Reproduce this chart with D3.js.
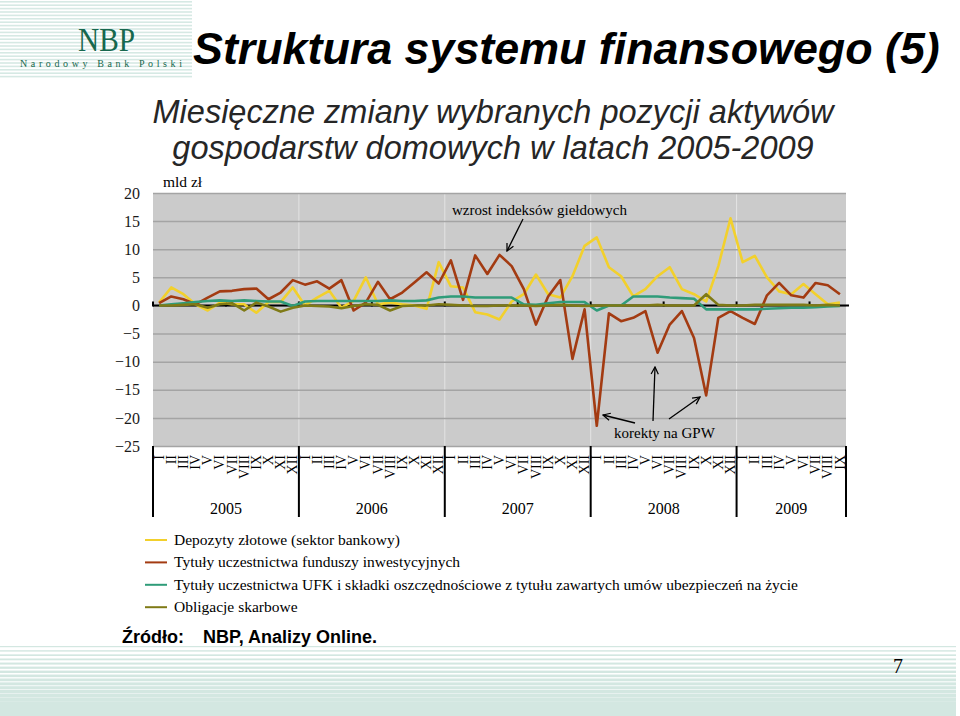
<!DOCTYPE html>
<html>
<head>
<meta charset="utf-8">
<script src="https://cdn.jsdelivr.net/npm/d3@7"></script>
<style>
  body { margin: 0; background: #fff; }
  svg { display: block; }
</style>
</head>
<body>
<svg id="slide"></svg>
<script>
// months / years of the category axis
const months = ['I','II','III','IV','V','VI','VII','VIII','IX','X','XI','XII'];
const years = ['2005','2006','2007','2008','2009'];
const monthsInYear = [12, 12, 12, 12, 9];
const yTicks = [20, 15, 10, 5, 0, -5, -10, -15, -20, -25];

// monthly changes, mld zł
const depozyty = [0.5, 3.2, 2.0, 0.2, -0.9, 0.5, 0.2, 0.2, -1.3, 0.6, 0.6, 3.2,
  0.0, 1.4, 2.6, -0.4, 0.8, 5.0, 0.2, 0.5, 0.2, 0.0, -0.6, 7.7,
  3.4, 3.2, -1.2, -1.6, -2.5, 0.7, 2.0, 5.5, 2.0, 1.4, 5.2, 10.6,
  12.1, 6.8, 5.2, 1.6, 2.9, 5.2, 6.8, 2.9, 2.0, 0.7, 7.0, 15.5,
  7.7, 8.8, 5.0, 2.5, 2.0, 3.8, 2.0, 0.2, 0.5];
const fundusze = [0.4, 1.6, 1.1, 0.2, 1.4, 2.5, 2.6, 2.9, 3.0, 1.1, 2.3, 4.5,
  3.7, 4.3, 3.0, 4.5, -0.9, 0.5, 4.2, 1.1, 2.3, 4.1, 5.9, 3.9,
  8.0, 1.0, 8.9, 5.6, 9.0, 7.0, 2.9, -3.4, 1.6, 4.5, -9.5, -0.7,
  -21.4, -1.4, -2.8, -2.2, -1.0, -8.4, -3.4, -1.0, -5.8, -16.0, -2.2, -1.0,
  -2.2, -3.3, 1.8, 4.0, 1.8, 1.4, 4.0, 3.6, 2.0];
const ufk = [0.0, 0.2, 0.4, 0.6, 0.8, 0.9, 0.8, 0.9, 0.8, 0.7, 0.7, -0.1,
  0.7, 0.8, 0.8, 0.8, 0.8, 0.8, 0.8, 0.9, 0.8, 0.8, 0.9, 1.4,
  1.6, 1.6, 1.4, 1.4, 1.4, 1.4, 0.2, 0.1, 0.4, 0.6, 0.6, 0.6,
  -0.9, 0.0, 0.0, 1.6, 1.6, 1.6, 1.4, 1.3, 1.2, -0.7, -0.7, -0.7,
  -0.7, -0.7, -0.6, -0.5, -0.4, -0.4, -0.3, -0.2, -0.1];
const obligacje = [0.0, 0.0, 0.1, 0.2, -0.4, 0.2, 0.4, -0.9, 0.5, -0.2, -1.1, -0.4,
  0.0, -0.1, -0.2, -0.5, -0.1, 0.2, 0.1, -0.9, -0.1, 0.0, 0.0, 0.2,
  0.1, 0.0, -0.1, -0.1, 0.0, 0.0, 0.0, -0.1, 0.0, 0.1, 0.0, -0.1,
  0.0, 0.0, 0.0, 0.0, 0.0, 0.1, 0.0, 0.0, 0.0, 2.0, 0.1, 0.0,
  0.0, 0.1, 0.1, 0.1, 0.1, 0.1, 0.0, 0.1, 0.0];

const seriesNames = [
  'Depozyty złotowe (sektor bankowy)',
  'Tytuły uczestnictwa funduszy inwestycyjnych',
  'Tytuły uczestnictwa UFK i składki oszczędnościowe z tytułu zawartych umów ubezpieczeń na życie',
  'Obligacje skarbowe'
];
const seriesValues = [depozyty, fundusze, ufk, obligacje];
const seriesColors = ['#f2d02c', '#a33b12', '#2f9c79', '#7f7a16'];

const serif = '"Liberation Serif", "Times New Roman", serif';
const sans = '"Liberation Sans", Arial, sans-serif';

const W = 960, H = 716;
const svg = d3.select('#slide').attr('width', W).attr('height', H);

// ---- slide decoration: striped bands ----
const deco = svg.append('g');
for (let y = 1; y < 77; y += 3.4) {
  deco.append('rect').attr('x', 0).attr('y', y).attr('width', 192).attr('height', 1.6)
    .attr('fill', '#d6e9e4');
}
let sy = 646, gap = 4.2;
while (sy < H) {
  const h = Math.min(1.2 + (sy - 646) * 0.05, gap);
  deco.append('rect').attr('x', 0).attr('y', sy).attr('width', 956).attr('height', h)
    .attr('fill', '#d3e7e1');
  sy += gap;
  gap = Math.max(gap - 0.04, 2.6);
}
deco.append('rect').attr('x', 0).attr('y', 704).attr('width', 956).attr('height', 12)
  .attr('fill', '#d3e7e1');

// NBP logo
svg.append('text').attr('x', 78).attr('y', 51).attr('textLength', 57)
  .attr('lengthAdjust', 'spacingAndGlyphs')
  .style('font-family', serif).style('font-size', '33px').attr('fill', '#17684e')
  .text('NBP');
svg.append('text').attr('x', 20).attr('y', 67).attr('textLength', 162)
  .attr('lengthAdjust', 'spacing')
  .style('font-family', serif).style('font-size', '10px').attr('fill', '#17684e')
  .text('Narodowy Bank Polski');

// titles
svg.append('text').attr('x', 193).attr('y', 64)
  .style('font-family', sans).style('font-size', '44.8px').style('font-weight', 'bold')
  .style('font-style', 'italic').attr('fill', '#000')
  .text('Struktura systemu finansowego (5)');
svg.append('text').attr('x', 493).attr('y', 123).attr('text-anchor', 'middle')
  .style('font-family', sans).style('font-size', '32.5px').style('font-style', 'italic')
  .attr('fill', '#262626')
  .text('Miesięczne zmiany wybranych pozycji aktywów');
svg.append('text').attr('x', 493).attr('y', 159).attr('text-anchor', 'middle')
  .style('font-family', sans).style('font-size', '32.5px').style('font-style', 'italic')
  .attr('fill', '#262626')
  .text('gospodarstw domowych w latach 2005-2009');

// ---- chart ----
const plot = {left: 153, right: 846, top: 193, bottom: 446};
const n = depozyty.length;
const x = d3.scaleBand().domain(d3.range(n)).range([plot.left, plot.right]);
const cx = i => x(i) + x.bandwidth() / 2;
const y = d3.scaleLinear().domain([-25, 20]).range([plot.bottom, plot.top]);

svg.append('rect').attr('x', plot.left).attr('y', plot.top)
  .attr('width', plot.right - plot.left).attr('height', plot.bottom - plot.top)
  .attr('fill', '#cbcbcb');

// year start positions
const yearStart = [0];
monthsInYear.forEach((m, i) => yearStart.push(yearStart[i] + m));
const boundaryX = k => k < n ? x(k) : plot.right;

// light vertical lines inside plot
svg.append('g').selectAll('line').data(yearStart.slice(1, -1)).join('line')
  .attr('x1', boundaryX).attr('x2', boundaryX)
  .attr('y1', plot.top).attr('y2', plot.bottom)
  .attr('stroke', '#e4e4e4').attr('stroke-width', 1);

// horizontal gridlines
const grid = svg.append('g').attr('transform', `translate(${plot.left},0)`)
  .call(d3.axisLeft(y).tickValues(yTicks).tickSize(-(plot.right - plot.left)).tickFormat(''));
grid.select('.domain').remove();
grid.selectAll('line').attr('stroke', '#a4a4a4').attr('stroke-width', 1.5);

// y labels
const yAxis = svg.append('g').attr('transform', `translate(${plot.left},0)`)
  .call(d3.axisLeft(y).tickValues(yTicks).tickSize(0).tickPadding(13));
yAxis.select('.domain').remove();
yAxis.selectAll('text').style('font-family', serif).style('font-size', '16px')
  .attr('fill', '#1a1a1a');

svg.append('text').attr('x', 163).attr('y', 187)
  .style('font-family', serif).style('font-size', '15.5px').text('mld zł');

// zero line with half-year ticks
svg.append('line').attr('x1', plot.left).attr('x2', plot.right + 3)
  .attr('y1', y(0)).attr('y2', y(0)).attr('stroke', '#000').attr('stroke-width', 2);
svg.append('g').selectAll('line').data(d3.range(0, n + 1, 6)).join('line')
  .attr('x1', k => boundaryX(k)).attr('x2', k => boundaryX(k))
  .attr('y1', y(0) - 4).attr('y2', y(0) + 1)
  .attr('stroke', '#000').attr('stroke-width', 2);

// series
const line = d3.line().x((d, i) => cx(i)).y(d => y(d));
svg.append('g').selectAll('path').data(seriesValues).join('path')
  .attr('d', line).attr('fill', 'none')
  .attr('stroke', (d, i) => seriesColors[i]).attr('stroke-width', 2.6)
  .attr('stroke-linejoin', 'round');

// category axis: month labels
const catLabels = [];
monthsInYear.forEach(m => months.slice(0, m).forEach(l => catLabels.push(l)));
svg.append('g').selectAll('text').data(catLabels).join('text')
  .attr('transform', (d, i) => `translate(${cx(i)},455) rotate(-90)`)
  .attr('text-anchor', 'end').attr('dy', '0.33em')
  .style('font-family', serif).style('font-size', '14px').attr('fill', '#000')
  .text(d => d);

// year separators and labels
svg.append('g').selectAll('line').data(yearStart).join('line')
  .attr('x1', boundaryX).attr('x2', boundaryX)
  .attr('y1', plot.bottom).attr('y2', 517)
  .attr('stroke', '#000').attr('stroke-width', 2);
svg.append('g').selectAll('text').data(years).join('text')
  .attr('x', (d, i) => (boundaryX(yearStart[i]) + boundaryX(yearStart[i + 1])) / 2)
  .attr('y', 514).attr('text-anchor', 'middle')
  .style('font-family', serif).style('font-size', '16px')
  .text(d => d);

// annotations
const defs = svg.append('defs');
defs.append('marker').attr('id', 'arr').attr('viewBox', '0 0 10 10')
  .attr('refX', 9).attr('refY', 5).attr('markerWidth', 9).attr('markerHeight', 9)
  .attr('markerUnits', 'userSpaceOnUse').attr('orient', 'auto')
  .append('path').attr('d', 'M1,1 L9,5 L1,9').attr('fill', 'none')
  .attr('stroke', '#000').attr('stroke-width', 1.4);

svg.append('text').attr('x', 452).attr('y', 215)
  .style('font-family', serif).style('font-size', '15px').text('wzrost indeksów giełdowych');
svg.append('text').attr('x', 614).attr('y', 438)
  .style('font-family', serif).style('font-size', '15px').text('korekty na GPW');

const arrows = [
  [523, 219, 507, 251],
  [635, 423, 603, 415],
  [653, 421, 655, 367],
  [669, 419, 700, 397]
];
svg.append('g').selectAll('line').data(arrows).join('line')
  .attr('x1', d => d[0]).attr('y1', d => d[1]).attr('x2', d => d[2]).attr('y2', d => d[3])
  .attr('stroke', '#000').attr('stroke-width', 1.3).attr('marker-end', 'url(#arr)');

// legend
const leg = svg.append('g').selectAll('g').data(seriesNames).join('g')
  .attr('transform', (d, i) => `translate(145,${540 + i * 22.4})`);
leg.append('line').attr('x1', 0).attr('x2', 22).attr('y1', 0).attr('y2', 0)
  .attr('stroke', (d, i) => seriesColors[i]).attr('stroke-width', 2);
leg.append('text').attr('x', 29).attr('y', 5)
  .style('font-family', serif).style('font-size', '15.5px').text(d => d);

// source
svg.append('text').attr('x', 122).attr('y', 643)
  .style('font-family', sans).style('font-size', '18px').style('font-weight', 'bold')
  .text('Źródło:');
svg.append('text').attr('x', 203).attr('y', 643)
  .style('font-family', sans).style('font-size', '18px').style('font-weight', 'bold')
  .text('NBP, Analizy Online.');

// page number
svg.append('text').attr('x', 893).attr('y', 673)
  .style('font-family', serif).style('font-size', '20px').text('7');
</script>
</body>
</html>
